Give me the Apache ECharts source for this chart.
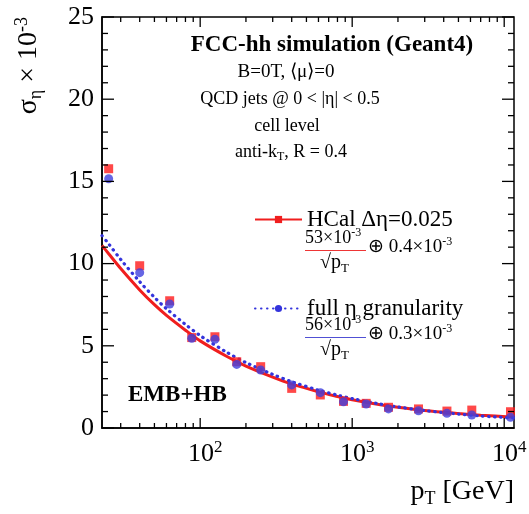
<!DOCTYPE html>
<html><head><meta charset="utf-8">
<script src="https://cdn.jsdelivr.net/npm/echarts@6/dist/echarts.min.js"></script>
<style>html,body{margin:0;padding:0;background:#fff}#c{width:529px;height:514px}</style>
</head><body><div id="c"></div>
<script>
// ---- data ----
const pT = [25, 40, 63, 88, 125, 174, 250, 400, 617, 877, 1236, 1733, 2730, 4200, 6120, 11000];
const hcalValues = [15.77, 9.87, 7.74, 5.5, 5.55, 4.03, 3.73, 2.41, 2.01, 1.62, 1.5, 1.26, 1.16, 1.03, 1.09, 0.99];
const fullValues = [15.16, 9.45, 7.54, 5.46, 5.40, 3.87, 3.53, 2.62, 2.15, 1.60, 1.46, 1.16, 1.05, 0.89, 0.79, 0.65];
const curvePT   = [22.6, 25, 30, 40, 50, 60, 80, 100, 150, 200, 300, 400, 600, 800, 1000, 1500, 2000, 3000, 5000, 7000, 11600];
const hcalCurve = [11.1, 10.6, 9.7, 8.4, 7.5, 6.85, 5.95, 5.3, 4.35, 3.77, 3.1, 2.68, 2.2, 1.92, 1.72, 1.43, 1.26, 1.06, 0.88, 0.78, 0.66];
const fullCurve = [11.7, 11.2, 10.25, 8.9, 7.95, 7.25, 6.3, 5.62, 4.6, 3.98, 3.26, 2.82, 2.3, 2.0, 1.79, 1.47, 1.28, 1.06, 0.85, 0.73, 0.61];
const xMajorTicks = [100, 1000, 10000];
const xMinorTicks = [30, 40, 50, 60, 70, 80, 90, 200, 300, 400, 500, 600, 700, 800, 900, 2000, 3000, 4000, 5000, 6000, 7000, 8000, 9000];
const xTickExponents = {100: '2', 1000: '3', 10000: '4'};
const yMajorTicks = [0, 5, 10, 15, 20, 25];
const yMinorTicks = [1, 2, 3, 4, 6, 7, 8, 9, 11, 12, 13, 14, 16, 17, 18, 19, 21, 22, 23, 24];
const seriesNames = ['HCal \u0394\u03b7=0.025', 'full \u03b7 granularity'];

const X_MIN = 22.6, X_MAX = 11600, Y_MIN = 0, Y_MAX = 25;
const RED = '#f01e1e', BLUE = '#3434dc';
const FONT = '"Liberation Serif", "Times New Roman", serif';

const chart = echarts.init(document.getElementById('c'), null, {renderer: 'canvas'});

function xTickItem(params, api) {
  const x = api.value(0), major = api.value(2);
  const b = api.coord([x, Y_MIN]), t = api.coord([x, Y_MAX]);
  const len = major ? 10 : 5;
  const st = {stroke: '#000', lineWidth: 1.3};
  return {type: 'group', children: [
    {type: 'line', shape: {x1: b[0], y1: b[1], x2: b[0], y2: b[1] - len}, style: st},
    {type: 'line', shape: {x1: t[0], y1: t[1], x2: t[0], y2: t[1] + len}, style: st}
  ]};
}
function yTickItem(params, api) {
  const y = api.value(1), major = api.value(2);
  const l = api.coord([X_MIN, y]), r = api.coord([X_MAX, y]);
  const len = major ? 12 : 6;
  const st = {stroke: '#000', lineWidth: 1.3};
  return {type: 'group', children: [
    {type: 'line', shape: {x1: l[0], y1: l[1], x2: l[0] + len, y2: l[1]}, style: st},
    {type: 'line', shape: {x1: r[0], y1: r[1], x2: r[0] - len, y2: r[1]}, style: st}
  ]};
}

const txt = (x, y, text, size, opts) => Object.assign({
  type: 'text', x: x, y: y, z: 100,
  style: Object.assign({text: text, fontFamily: FONT, fontSize: size, fill: '#000',
    align: 'center', textAlign: 'center', verticalAlign: 'middle', textVerticalAlign: 'middle'}, opts || {})
});

const richBase = (size, color) => ({
  a: {fontFamily: FONT, fontSize: size, lineHeight: size + 4, color: color},
  s: {fontFamily: FONT, fontSize: Math.round(size * 0.65), lineHeight: Math.round(size * 0.65), verticalAlign: 'bottom', color: color},
  p: {fontFamily: FONT, fontSize: Math.round(size * 0.65), lineHeight: Math.round(size * 0.65), verticalAlign: 'top', color: color}
});

function formula(x, yBar, num, tail, color) {
  return [
    {type: 'text', x: x, y: yBar - 1, z: 100, style: {text: '{a|' + num + '}{p|-3}', rich: richBase(18, color),
      align: 'left', textAlign: 'left', verticalAlign: 'bottom', textVerticalAlign: 'bottom'}},
    {type: 'line', z: 100, shape: {x1: x, y1: yBar + 0.5, x2: x + 61, y2: yBar + 0.5}, style: {stroke: color, lineWidth: 1}},
    {type: 'text', x: x + 15, y: yBar + 1, z: 100, style: {text: '{a|\u221Ap}{s|T}', rich: richBase(20, color),
      align: 'left', textAlign: 'left', verticalAlign: 'top', textVerticalAlign: 'top'}},
    {type: 'text', x: x + 63, y: yBar - 3, z: 100, style: {text: '{a|' + tail + '}{p|-3}', rich: richBase(19, color),
      align: 'left', textAlign: 'left', verticalAlign: 'middle', textVerticalAlign: 'middle'}}
  ];
}

const option = {
  animation: false,
  backgroundColor: '#fff',
  grid: {left: 102, right: 15, top: 17, bottom: 86, containLabel: false, outerBoundsMode: 'none',
    show: true, borderColor: '#000', borderWidth: 1.5, backgroundColor: 'transparent'},
  xAxis: {
    type: 'log', logBase: 10, min: X_MIN, max: X_MAX,
    axisLine: {show: true, lineStyle: {color: '#000', width: 1.5}},
    axisTick: {show: false}, minorTick: {show: false}, splitLine: {show: false},
    axisLabel: {
      show: true, margin: 11, showMinLabel: false, showMaxLabel: false, hideOverlap: false,
      formatter: function (v) {
        const e = Math.log10(v), r = Math.round(e);
        if (Math.abs(e - r) > 1e-6) return '';
        const key = Math.pow(10, r);
        if (!(key in xTickExponents)) return '';
        return '{b|10}{p|' + xTickExponents[key] + '}';
      },
      rich: {
        b: {fontFamily: FONT, fontSize: 26, lineHeight: 30, color: '#000', padding: [0, 0, 0, 10]},
        p: {fontFamily: FONT, fontSize: 17, lineHeight: 17, verticalAlign: 'top', color: '#000'}
      }
    }
  },
  yAxis: {
    type: 'value', min: Y_MIN, max: Y_MAX, interval: 5,
    axisLine: {show: true, lineStyle: {color: '#000', width: 1.5}},
    axisTick: {show: false}, splitLine: {show: false},
    axisLabel: {fontFamily: FONT, fontSize: 26, color: '#000', margin: 8}
  },
  legend: [
    {data: [seriesNames[0]], left: 249, top: 203, orient: 'horizontal', itemWidth: 47, itemHeight: 9,
      selectedMode: false, textStyle: {fontFamily: FONT, fontSize: 23, color: '#000'}},
    {data: [seriesNames[1]], left: 249, top: 292, orient: 'horizontal', itemWidth: 47, itemHeight: 9,
      selectedMode: false, textStyle: {fontFamily: FONT, fontSize: 23, color: '#000'}}
  ],
  series: [
    {type: 'line', name: seriesNames[0], data: curvePT.map((x, i) => [x, hcalCurve[i]]),
      symbol: 'rect', showSymbol: false, smooth: 0.3, z: 2,
      lineStyle: {color: RED, width: 3}, itemStyle: {color: RED}},
    {type: 'line', name: seriesNames[1], data: curvePT.map((x, i) => [x, fullCurve[i]]),
      symbol: 'circle', showSymbol: false, smooth: 0.3, z: 3,
      lineStyle: {color: BLUE, width: 3.2, type: [0.5, 5.5], cap: 'round'}, itemStyle: {color: BLUE}},
    {type: 'scatter', name: 'hcal points', data: pT.map((x, i) => [x, hcalValues[i]]),
      symbol: 'rect', symbolSize: 9, z: 4, itemStyle: {color: '#ff1a1a'}},
    {type: 'scatter', name: 'full points', data: pT.map((x, i) => [x, fullValues[i]]),
      symbol: 'circle', symbolSize: 9, z: 5, itemStyle: {color: '#4040dd'}},
    {type: 'custom', name: 'xticks', renderItem: xTickItem, z: 10, silent: true,
      encode: {x: 0, y: 1},
      data: xMajorTicks.map(v => [v, 0, 1]).concat(xMinorTicks.map(v => [v, 0, 0]))},
    {type: 'custom', name: 'yticks', renderItem: yTickItem, z: 10, silent: true,
      encode: {x: 0, y: 1},
      data: yMajorTicks.map(v => [X_MIN, v, 1]).concat(yMinorTicks.map(v => [X_MIN, v, 0]))}
  ],
  graphic: [
    txt(332, 45, 'FCC-hh simulation (Geant4)', 23, {fontWeight: 'bold'}),
    txt(286, 72, 'B=0T, \u27E8\u03bc\u27E9=0', 19),
    txt(290, 99, 'QCD jets @ 0 < |\u03b7| < 0.5', 18),
    txt(287, 126, 'cell level', 18),
    {type: 'text', x: 291, y: 152, z: 100, style: {text: '{a|anti-k}{s|T}{a|, R = 0.4}', rich: richBase(18, '#000'),
      align: 'center', textAlign: 'center', verticalAlign: 'middle', textVerticalAlign: 'middle'}},
    txt(128, 395, 'EMB+HB', 23, {fontWeight: 'bold', align: 'left', textAlign: 'left'}),
    {type: 'text', x: 29, y: 17, rotation: Math.PI / 2, z: 100,
      style: {text: '{a|\u03c3}{s|\u03b7}{a| \u00d7 10}{p|-3}', rich: richBase(28, '#000'),
        align: 'right', textAlign: 'right', verticalAlign: 'middle', textVerticalAlign: 'middle'}},
    {type: 'text', x: 514, y: 492, z: 100,
      style: {text: '{a|p}{s|T}{a| [GeV]}', rich: richBase(28, '#000'),
        align: 'right', textAlign: 'right', verticalAlign: 'middle', textVerticalAlign: 'middle'}}
  ].concat(formula(305, 250, '53\u00d710', '\u2295 0.4\u00d710', '#ee3535'))
   .concat(formula(305, 337, '56\u00d710', '\u2295 0.3\u00d710', '#5050d4'))
};
chart.setOption(option);
</script>
</body></html>
